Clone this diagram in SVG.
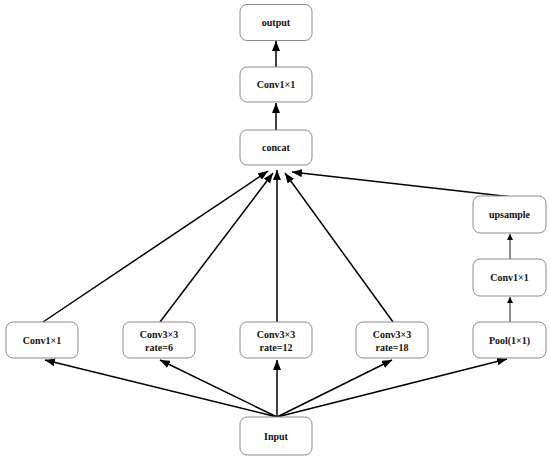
<svg xmlns="http://www.w3.org/2000/svg" width="550" height="458" viewBox="0 0 550 458">
<style>
.box{fill:#fff;stroke:#8c8c8c;stroke-width:1}
.t{font-family:"Liberation Serif","Times New Roman",serif;font-weight:bold;font-size:10px;fill:#111;text-anchor:middle}
.e{stroke:#000;stroke-width:1.5;fill:none}
.s{stroke:#000;stroke-width:0.9;fill:none}
</style>
<defs>
<marker id="ah" markerUnits="userSpaceOnUse" markerWidth="11" markerHeight="8" refX="10" refY="4" orient="auto">
<path d="M0,0 L10,4 L0,8 Z" fill="#000"/>
</marker>
<marker id="as" markerUnits="userSpaceOnUse" markerWidth="7" markerHeight="6" refX="6" refY="3" orient="auto">
<path d="M0,0 L6,3 L0,6 Z" fill="#000"/>
</marker>
</defs>
<rect width="550" height="458" fill="#fff"/>
<g id="connectors">
<line class="e" x1="276" y1="67" x2="276" y2="41" marker-end="url(#ah)"/>
<line class="e" x1="276" y1="130" x2="276" y2="103" marker-end="url(#ah)"/>
<line class="e" x1="43" y1="322" x2="268" y2="171" marker-end="url(#ah)"/>
<line class="e" x1="160" y1="322" x2="273" y2="173" marker-end="url(#ah)"/>
<line class="e" x1="277" y1="322" x2="277" y2="170" marker-end="url(#ah)"/>
<line class="e" x1="393" y1="322" x2="285" y2="173" marker-end="url(#ah)"/>
<line class="e" x1="512" y1="197" x2="292" y2="172" marker-end="url(#ah)"/>
<line class="s" x1="510" y1="322" x2="510" y2="297" marker-end="url(#as)"/>
<line class="s" x1="510" y1="259" x2="510" y2="234" marker-end="url(#as)"/>
<line class="e" x1="277" y1="417" x2="45" y2="360" marker-end="url(#ah)"/>
<line class="e" x1="277" y1="417" x2="160" y2="360" marker-end="url(#ah)"/>
<line class="e" x1="277" y1="417" x2="277" y2="360" marker-end="url(#ah)"/>
<line class="e" x1="277" y1="417" x2="392" y2="360" marker-end="url(#ah)"/>
<line class="e" x1="277" y1="417" x2="507" y2="359" marker-end="url(#ah)"/>
</g>
<g id="output"><rect class="box" x="240" y="4.5" width="72" height="36" rx="7"/><text class="t" x="276" y="26">output</text></g>
<g id="conv_top"><rect class="box" x="240" y="67" width="72" height="35" rx="7"/><text class="t" x="276" y="88">Conv1×1</text></g>
<g id="concat"><rect class="box" x="240" y="130" width="72" height="35" rx="7"/><text class="t" x="276" y="151">concat</text></g>
<g id="upsample"><rect class="box" x="473" y="196" width="73" height="37" rx="7"/><text class="t" x="509.5" y="218">upsample</text></g>
<g id="conv_right"><rect class="box" x="473" y="259" width="73" height="37" rx="7"/><text class="t" x="509.5" y="281">Conv1×1</text></g>
<g id="conv1"><rect class="box" x="6" y="322" width="72" height="36" rx="7"/><text class="t" x="42" y="344">Conv1×1</text></g>
<g id="rate6"><rect class="box" x="123" y="322" width="72" height="36" rx="7"/><text class="t" x="159" y="338">Conv3×3</text><text class="t" x="159" y="351">rate=6</text></g>
<g id="rate12"><rect class="box" x="240" y="322" width="72" height="36" rx="7"/><text class="t" x="276" y="338">Conv3×3</text><text class="t" x="276" y="351">rate=12</text></g>
<g id="rate18"><rect class="box" x="356" y="322" width="72" height="36" rx="7"/><text class="t" x="392" y="338">Conv3×3</text><text class="t" x="392" y="351">rate=18</text></g>
<g id="pool"><rect class="box" x="473" y="322" width="73" height="36" rx="7"/><text class="t" x="509.5" y="344">Pool(1×1)</text></g>
<g id="input"><rect class="box" x="240" y="417" width="72" height="38" rx="7"/><text class="t" x="276" y="440">Input</text></g>
</svg>
